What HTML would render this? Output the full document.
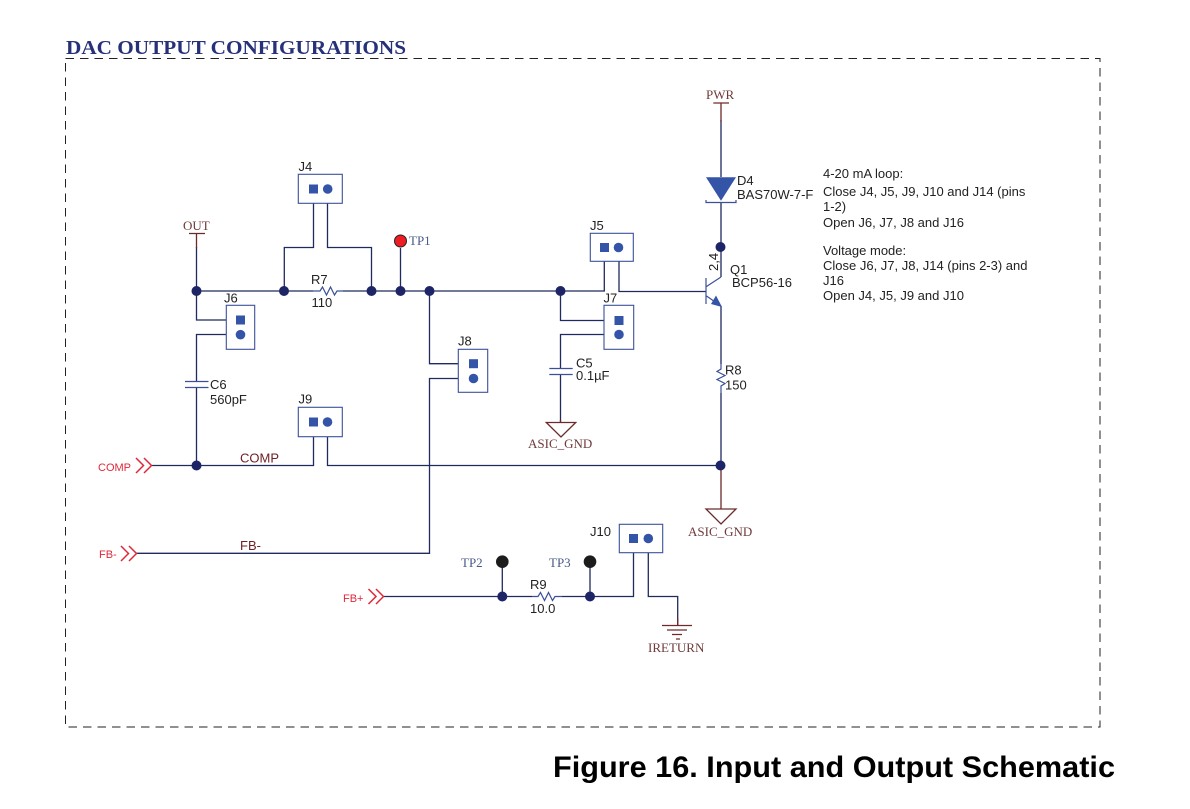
<!DOCTYPE html>
<html><head><meta charset="utf-8"><style>
html,body{margin:0;padding:0;background:#fff}
svg{display:block}
.w{fill:none;stroke:#1f2a5e;stroke-width:1.3}
.b{fill:none;stroke:#3b5099;stroke-width:1.2}
.r{fill:none;stroke:#6e2a2a;stroke-width:1.3}
.box{fill:none;stroke:#3b5099;stroke-width:1.1}
.s{fill:#3454a8}
.a{font-family:"Liberation Sans",sans-serif;font-size:13px;fill:#222}
.t{font-family:"Liberation Serif",serif;font-size:13px}
.red{font-family:"Liberation Sans",sans-serif;font-size:11px;fill:#e0283a}
.arr{fill:none;stroke:#e0283a;stroke-width:1.5}
</style></head><body>
<svg width="1190" height="809" viewBox="0 0 1190 809" xmlns="http://www.w3.org/2000/svg">
<rect width="1190" height="809" fill="#fff"/>
<rect x="65.5" y="58.5" width="1034.5" height="668.5" fill="none" stroke="#222" stroke-width="1" stroke-dasharray="8.5 6"/>
<text x="66" y="54" textLength="340" lengthAdjust="spacingAndGlyphs" font-family="Liberation Serif,serif" font-weight="bold" font-size="20" fill="#27317a">DAC OUTPUT CONFIGURATIONS</text>
<text x="553" y="777" textLength="562" lengthAdjust="spacingAndGlyphs" font-family="Liberation Sans,sans-serif" font-weight="bold" font-size="29.5" fill="#000">Figure 16. Input and Output Schematic</text>

<!-- wires -->
<path class="w" d="M196.5 247V291H313M343 291H604.3V261M619 261V291.5H706M196.5 291V320H226M226 334.5H196.5V381.5M196.5 387.5V465.5H313.5V437M327.5 437V465.5H721"/>
<path class="w" d="M313.5 203V247.5H284.3V291M327.5 203V247.5H371.5V291M400.5 248V291"/>
<path class="w" d="M429.5 291V363.7H458.5M458.5 378.5H429.5V553.3H136.5"/>
<path class="w" d="M560.5 291V320.5H604M604 334.5H560.5V368.5M560.5 374.5V422"/>
<path class="w" d="M721 120V177M721 203V277M721 306V364M721 393V465.5"/>
<path class="w" d="M384 596.5H532M562 596.5H633.5V552.5M648.3 552.5V596.5H677.7V625M502.3 562V596.5M590 562V596.5"/>
<path class="w" d="M152 465.5H196"/>

<!-- dark red symbols -->
<path class="r" d="M196.5 233.5V248M189 233.5H205M721 103V122M713.3 103H729M721 465.5V509M560.5 420V422"/>
<path class="r" d="M546.3 422.5H575.7L561 437ZM706 509H736L721 524Z"/>
<path class="r" d="M662 625.5H692M667 630H687M672 634.5H682M676 639H680M677.7 625V618"/>

<!-- capacitors -->
<path class="b" d="M185 381.5H208.5M185 387.5H208.5M549.3 368.5H572.7M549.3 374.5H572.7"/>
<!-- resistors -->
<path class="b" d="M313 291H320L322.5 287L326.5 295L330.5 287L334.5 295L337 291H343M532 596.5H538L540.5 592.5L544.5 600.5L548.5 592.5L552.5 600.5L555 596.5H562M721 364V369L717 371.5L725 375.5L717 379.5L725 383.5L721 386V393"/>

<!-- diode -->
<path d="M706 177.3H736L721 200.7Z" fill="#3454a8"/>
<path class="b" d="M706 200V202.5H736V200"/>
<!-- transistor -->
<path class="b" d="M706 278V304M706.5 286.5L721 277M706.5 296L721 306"/>
<path d="M722 307L711 304L716 295.5Z" fill="#3454a8"/>

<!-- jumpers -->
<rect class="box" x="298.3" y="174.3" width="44" height="29"/>
<rect class="s" x="309" y="184.5" width="9" height="9"/><circle class="s" cx="327.7" cy="189" r="4.8"/>
<rect class="box" x="226.3" y="305.3" width="28.4" height="44"/>
<rect class="s" x="236" y="315.5" width="9" height="9"/><circle class="s" cx="240.5" cy="334.7" r="4.8"/>
<rect class="box" x="298.3" y="407.3" width="44" height="29.4"/>
<rect class="s" x="309" y="417.5" width="9" height="9"/><circle class="s" cx="327.5" cy="422" r="4.8"/>
<rect class="box" x="458.3" y="349.3" width="29.4" height="43"/>
<rect class="s" x="469" y="359.2" width="9" height="9"/><circle class="s" cx="473.5" cy="378.5" r="4.8"/>
<rect class="box" x="590.3" y="233.3" width="43" height="28"/>
<rect class="s" x="600" y="243" width="9" height="9"/><circle class="s" cx="618.5" cy="247.5" r="4.8"/>
<rect class="box" x="604" y="305.3" width="29.7" height="44"/>
<rect class="s" x="614.5" y="316" width="9" height="9"/><circle class="s" cx="619" cy="334.5" r="4.8"/>
<rect class="box" x="619.3" y="524.3" width="43.4" height="28.4"/>
<rect class="s" x="629" y="534" width="9" height="9"/><circle class="s" cx="648.3" cy="538.5" r="4.8"/>

<!-- nodes -->
<g fill="#1e2566">
<circle cx="196.5" cy="291" r="5"/><circle cx="284" cy="291" r="5"/><circle cx="371.5" cy="291" r="5"/>
<circle cx="400.5" cy="291" r="5"/><circle cx="429.5" cy="291" r="5"/><circle cx="560.5" cy="291" r="5"/>
<circle cx="720.5" cy="247" r="5"/><circle cx="196.5" cy="465.5" r="5"/><circle cx="720.5" cy="465.5" r="5"/>
<circle cx="502.3" cy="596.5" r="5"/><circle cx="590" cy="596.5" r="5"/>
</g>
<circle cx="400.5" cy="241" r="6" fill="#ee1c25" stroke="#222" stroke-width="1"/>
<circle cx="502.3" cy="561.7" r="6.3" fill="#1c1c1c"/><circle cx="590" cy="561.7" r="6.3" fill="#1c1c1c"/>

<!-- offpage arrows -->
<path class="arr" d="M136 458L143.5 465.5L136 473M144 458L151.5 465.5L144 473"/>
<path class="arr" d="M121 546L128.5 553.5L121 561M129 546L136.5 553.5L129 561"/>
<path class="arr" d="M368.5 589L376 596.5L368.5 604M376 589L383.5 596.5L376 604"/>
<text class="red" x="98" y="471">COMP</text>
<text class="red" x="99" y="558">FB-</text>
<text class="red" x="343" y="602">FB+</text>

<!-- labels -->
<g class="a">
<text x="298.5" y="171">J4</text><text x="224" y="302.5">J6</text><text x="298.5" y="403.5">J9</text>
<text x="458" y="345.5">J8</text><text x="590" y="230">J5</text><text x="603.5" y="302.5">J7</text>
<text x="590" y="536">J10</text>
<text x="311" y="284">R7</text><text x="311.5" y="307">110</text>
<text x="210" y="389">C6</text><text x="210" y="404">560pF</text>
<text x="576" y="367.5">C5</text><text x="576" y="380">0.1µF</text>
<text x="725" y="374.5">R8</text><text x="725" y="389.5">150</text>
<text x="530" y="589">R9</text><text x="530" y="613">10.0</text>
<text x="737" y="185">D4</text><text x="737" y="199">BAS70W-7-F</text>
<text x="730" y="274">Q1</text><text x="732" y="287">BCP56-16</text>
<text transform="translate(718 271) rotate(-90)">2,4</text>
</g>
<g class="a">
<text x="823" y="178">4-20 mA loop:</text>
<text x="823" y="196">Close J4, J5, J9, J10 and J14 (pins</text>
<text x="823" y="211">1-2)</text>
<text x="823" y="227">Open J6, J7, J8 and J16</text>
<text x="823" y="255">Voltage mode:</text>
<text x="823" y="270">Close J6, J7, J8, J14 (pins 2-3) and</text>
<text x="823" y="285">J16</text>
<text x="823" y="300">Open J4, J5, J9 and J10</text>
</g>
<text x="240" y="462.5" font-family="Liberation Sans,sans-serif" font-size="13" fill="#6e1f24">COMP</text>
<text x="240" y="550" font-family="Liberation Sans,sans-serif" font-size="13" fill="#6e1f24">FB-</text>
<g class="t" fill="#6e3a3a">
<text x="183" y="230">OUT</text>
<text x="706" y="99">PWR</text>
<text x="528" y="448">ASIC_GND</text>
<text x="688" y="536">ASIC_GND</text>
<text x="648" y="652">IRETURN</text>
</g>
<g class="t" fill="#4a5a8a">
<text x="409" y="245">TP1</text>
<text x="461" y="567">TP2</text>
<text x="549" y="567">TP3</text>
</g>
</svg>
</body></html>
